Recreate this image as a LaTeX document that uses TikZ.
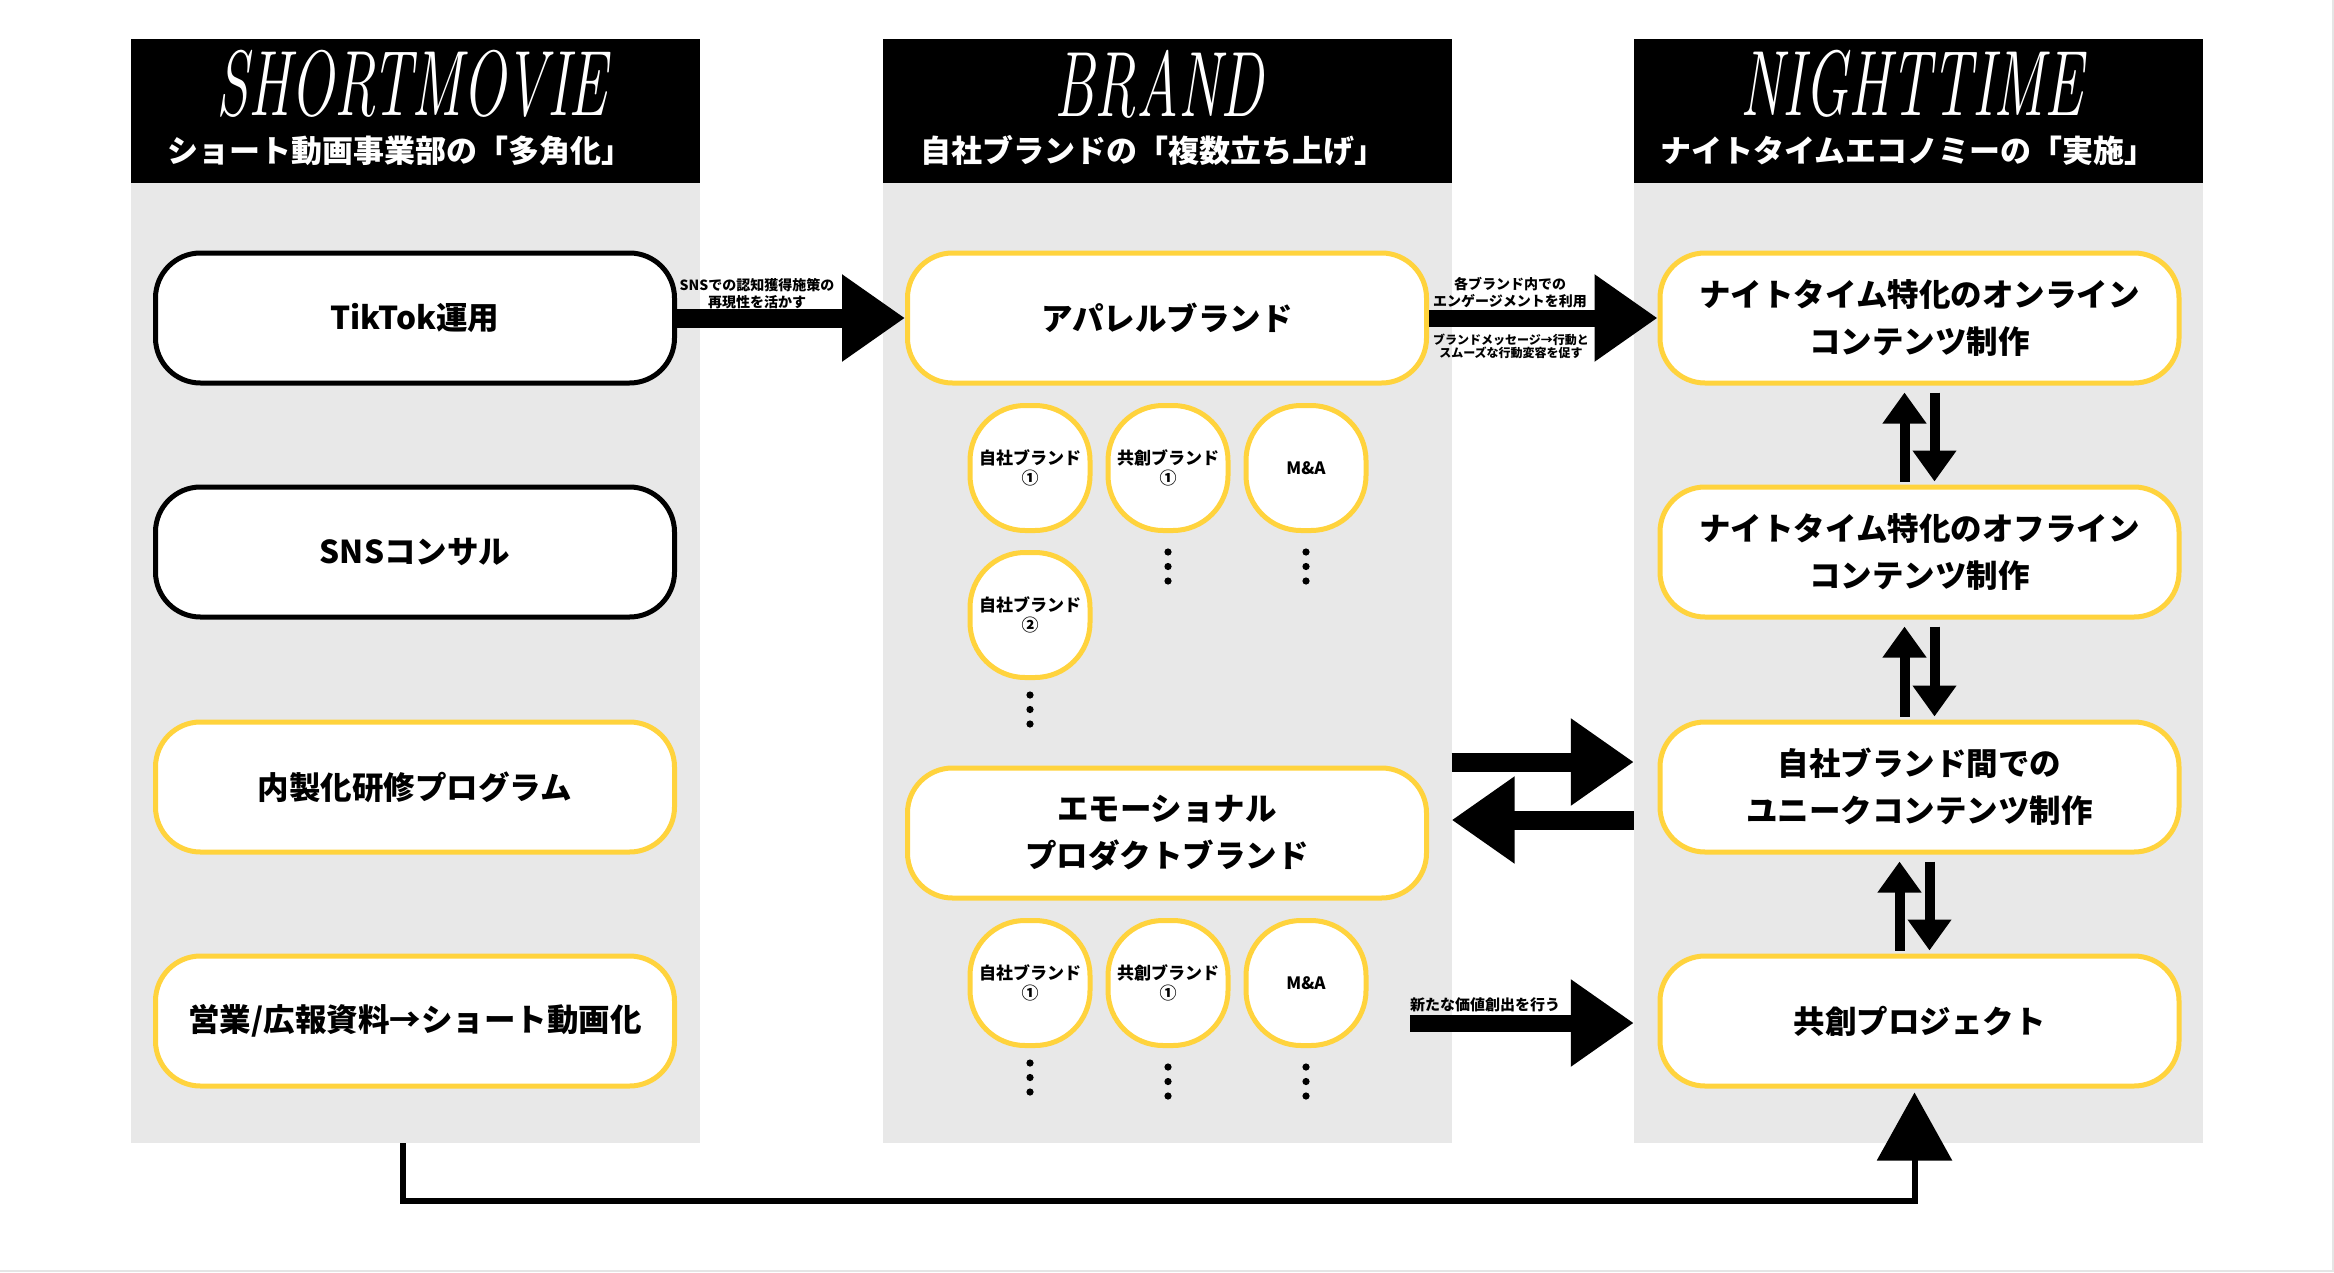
\documentclass[tikz,border=0pt]{standalone}
\usepackage{fontspec}
\setmainfont{Noto Sans CJK JP}
\newfontfamily\handfont{Latin Modern Roman}
\usepackage{graphicx}
\usepackage{tikz}
\usetikzlibrary{calc,arrows.meta,positioning}
\definecolor{panelGray}{RGB}{232,232,232}
\definecolor{nightYellow}{RGB}{255,211,61}

\begin{document}
\begin{tikzpicture}[x=1pt,y=-1pt,
  panel/.style={fill=panelGray, minimum width=569pt, minimum height=1104pt, inner sep=0pt},
  headbar/.style={fill=black, minimum width=569pt, minimum height=144pt, inner sep=0pt},
  scripttitle/.style={text=white, inner sep=0pt, font=\handfont\itshape\fontsize{58}{60}\selectfont},
  headsub/.style={text=white, inner sep=0pt, font=\bfseries\fontsize{31}{34}\selectfont},
  pill/.style={line width=5pt, fill=white, rounded corners=45pt, minimum width=519pt, minimum height=130pt, align=center, font=\bfseries\fontsize{31.5}{47}\selectfont},
  blackpill/.style={pill, draw=black},
  yellowpill/.style={pill, draw=nightYellow},
  bubble/.style={draw=nightYellow, line width=5pt, fill=white, rounded corners=55pt, minimum width=120pt, minimum height=125pt, inner sep=0pt, align=center, font=\bfseries\fontsize{17}{20}\selectfont},
  fatarrow/.style={line width=19pt, -{Triangle[length=63pt,width=83pt]}},
  pairarrow/.style={line width=10pt, -{Triangle[length=31pt,width=42pt]}},
  arrowtext/.style={align=center, inner sep=0pt, font=\bfseries\fontsize{14}{17}\selectfont},
]
\path[use as bounding box, fill=white] (0,0) rectangle (2334,1272);
\draw[black!10, line width=2pt] (0,1271) -- (2333,1271) -- (2333,0);

% columns
\node[panel] (shortcol) at (415.5,591) {};
\node[panel] (brandcol) at (1167,591) {};
\node[panel] (nightcol) at (1918.5,591) {};

\node[headbar] (shorthead) at (415.5,111) {};
\node[headbar] (brandhead) at (1167,111) {};
\node[headbar] (nighthead) at (1918.5,111) {};

\node[scripttitle] (shorttitle) at (412,84) {\scalebox{1}[1.6]{SHORTMOVIE}};
\node[scripttitle] (brandtitle) at (1159,84) {\scalebox{1}[1.6]{BRAND}};
\node[scripttitle] (nighttitle) at (1912,84) {\scalebox{1}[1.6]{NIGHTTIME}};

\node[headsub] (shortsub) at (400,151) {ショート動画事業部の「多角化」};
\node[headsub] (brandsub) at (1153,151) {自社ブランドの「複数立ち上げ」};
\node[headsub] (nightsub) at (1908,151) {ナイトタイムエコノミーの「実施」};

% short movie
\node[blackpill] (tiktok) at (415,318) {TikTok運用};
\node[blackpill] (snsconsul) at (415,552) {SNSコンサル};
\node[yellowpill] (inhouse) at (415,787) {内製化研修プログラム};
\node[yellowpill] (salesvid) at (415,1021) {営業/広報資料→ショート動画化};

% brand
\node[yellowpill] (apparel) at (1167,318) {アパレルブランド};
\node[yellowpill] (emotional) at (1167,833) {エモーショナル\\プロダクトブランド};

\node[bubble] (own1) at (1030,468) {自社ブランド\\①};
\node[bubble, right=13pt of own1] (co1) {共創ブランド\\①};
\node[bubble, right=13pt of co1] (ma1) {M\&A};
\node[bubble, below=17pt of own1] (own2) {自社ブランド\\②};

\node[bubble] (own1b) at (1030,983) {自社ブランド\\①};
\node[bubble, right=13pt of own1b] (co1b) {共創ブランド\\①};
\node[bubble, right=13pt of co1b] (ma1b) {M\&A};

\foreach \b/\gap in {co1/19, ma1/19, own2/15, own1b/15, co1b/19, ma1b/19}
  \foreach \k in {0,1,2}
    \fill ($(\b.south)+(0,\gap+14.5*\k)$) circle (3.6pt);

% night time
\node[yellowpill] (online) at (1919.5,318) {ナイトタイム特化のオンライン\\コンテンツ制作};
\node[yellowpill] (offline) at (1919.5,552) {ナイトタイム特化のオフライン\\コンテンツ制作};
\node[yellowpill] (uniq) at (1919.5,787) {自社ブランド間での\\ユニークコンテンツ制作};
\node[yellowpill] (cocreate) at (1919.5,1021) {共創プロジェクト};

\foreach \a/\b/\dx in {online/offline/0, offline/uniq/0, uniq/cocreate/-5} {
  \draw[pairarrow] ($(\b.north)+(-15+\dx,-3)$) -- ($(\a.south)+(-15+\dx,7)$);
  \draw[pairarrow] ($(\a.south)+(15+\dx,7)$) -- ($(\b.north)+(15+\dx,-3)$);
}

% connectors between columns
\draw[fatarrow] (tiktok.east) -- (apparel.west);
\node[arrowtext] (snslabel) at (757,294) {SNSでの認知獲得施策の\\再現性を活かす};

\draw[fatarrow, line width=17pt] (apparel.east) -- (online.west);
\node[arrowtext] (englabel) at (1510,293) {各ブランド内での\\エンゲージメントを利用};
\node[arrowtext, font=\bfseries\fontsize{12}{13}\selectfont] (msglabel) at (1511,346) {ブランドメッセージ→行動と\\スムーズな行動変容を促す};

\draw[fatarrow] ($(brandcol.east |- uniq)+(0,-25)$) -- ($(nightcol.west |- uniq)+(0,-25)$);
\draw[fatarrow] ($(nightcol.west |- uniq)+(0,33)$) -- ($(brandcol.east |- uniq)+(0,33)$);

\coordinate (valstart) at (1410,1023);
\draw[fatarrow, line width=17pt] (valstart) -- (nightcol.west |- valstart);
\node[arrowtext, anchor=south west, font=\bfseries\fontsize{15}{17}\selectfont] (vallabel) at (1410,1012) {新たな価値創出を行う};

\draw[line width=6pt, -{Triangle[length=68pt,width=74pt]}] ($(shortcol.south)+(-13,0)$) |- ($(cocreate.south)+(-5,112)$) -- ($(cocreate.south)+(-5,4)$);
\end{tikzpicture}
\end{document}
